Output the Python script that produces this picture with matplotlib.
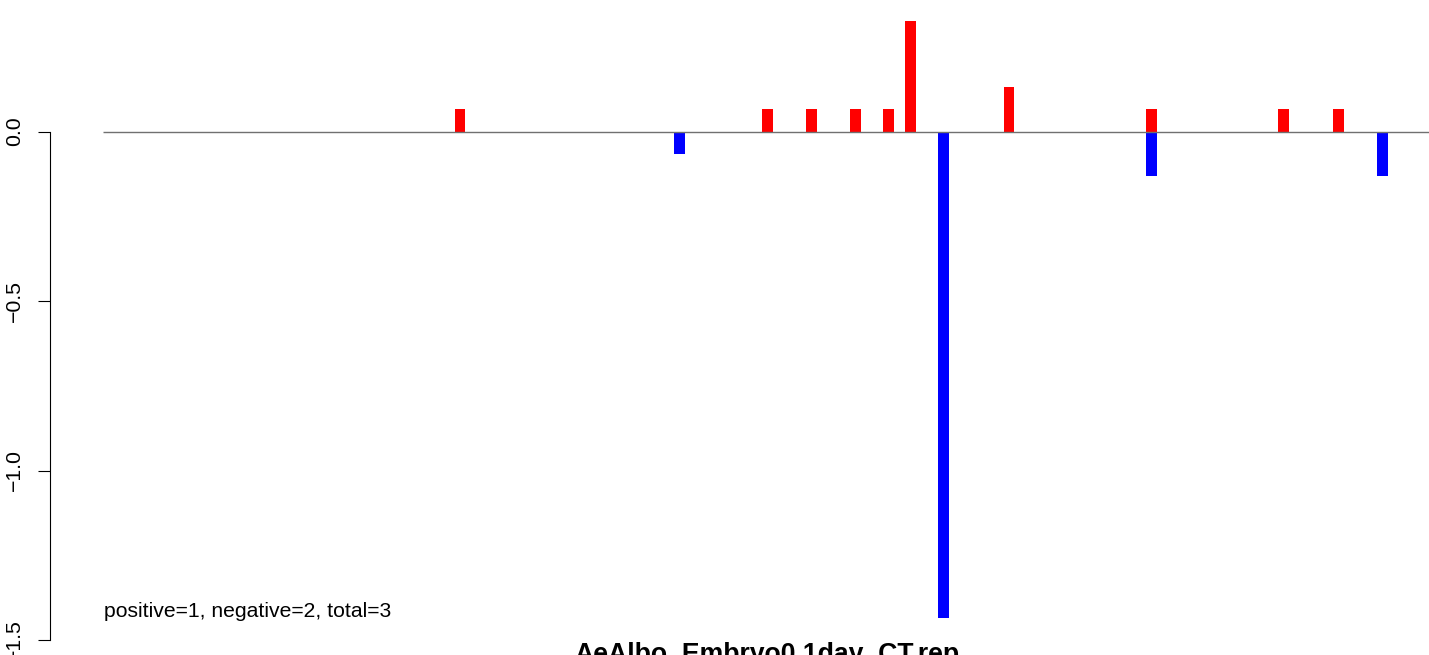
import matplotlib
matplotlib.use("Agg")
import matplotlib.pyplot as plt

# ---- data ----
pos_x = [33, 61, 65, 69, 72, 74, 83, 96, 108, 113]
pos_y = [0.066, 0.066, 0.066, 0.066, 0.066, 0.325, 0.131, 0.066, 0.066, 0.066]
neg_x = [53, 77, 96, 117]
neg_y = [-0.066, -1.435, -0.131, -0.131]
y_ticks = [0.0, -0.5, -1.0, -1.5]
y_tick_labels = ["0.0", "\u22120.5", "\u22121.0", "\u22121.5"]
note = "positive=1, negative=2, total=3"
title = "AeAlbo_Embryo0.1day_CT.rep"

plt.rcParams['font.family'] = ['Liberation Sans', 'DejaVu Sans']

W, H = 1429, 655
fig = plt.figure(figsize=(W / 100, H / 100), dpi=100)
ax = fig.add_axes([50 / W, 0, 1 - 50 / W, 1])

ax.bar(pos_x, pos_y, width=1.0, color="#FF0000", linewidth=0, zorder=2)
ax.bar(neg_x, neg_y, width=1.0, color="#0000FF", linewidth=0, zorder=2)
ax.hlines(0, 0.5, 200, color="#707070", linewidth=1.0, zorder=3)

ax.set_xlim(-4.34, 121.25)
ax.set_ylim(-1.5442, 0.3879)

for s in ["top", "right", "bottom"]:
    ax.spines[s].set_visible(False)
ax.spines["left"].set_bounds(-1.5, 0.0)
ax.spines["left"].set_linewidth(0.8)
ax.set_xticks([])
ax.set_yticks(y_ticks)
ax.set_yticklabels(y_tick_labels, rotation=90, va="center", ha="right", fontsize=15.3)
ax.tick_params(axis="y", length=8.6, width=0.8, pad=10, direction="out")
ax.patch.set_alpha(0)

fig.text(104 / W, 1 - 617 / H, note, fontsize=15.2, ha="left", va="baseline")
fig.text(767 / W, 1 - 662 / H, title, fontsize=19.2, fontweight="bold",
         ha="center", va="baseline")

fig.savefig("out.png", dpi=100)
